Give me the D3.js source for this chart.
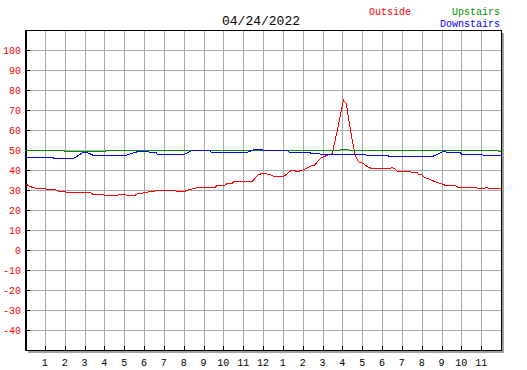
<!DOCTYPE html>
<html>
<head>
<meta charset="utf-8">
<script src="https://cdn.jsdelivr.net/npm/d3@7"></script>
<style>
body { margin: 0; background: #fff; }
svg { display: block; }
text { font-family: "Liberation Mono", "DejaVu Sans Mono", monospace; }
</style>
</head>
<body>
<svg width="527" height="370"></svg>
<script>
// data: [hour, degrees]
var outside = [
  [0.05,33.0],[0.25,31.7],[0.6,30.8],[1.0,30.8],[1.1,30.3],[1.5,30.3],[1.65,29.5],[2.0,29.5],
  [2.1,28.7],[3.3,28.7],[3.4,28.0],[3.9,28.0],[4.0,27.3],[4.65,27.3],[4.75,27.8],[5.05,27.8],
  [5.15,27.3],[5.55,27.3],[5.65,28.0],[6.05,28.7],[6.3,29.2],[6.7,29.7],[7.55,29.7],[7.65,29.3],
  [8.05,29.3],[8.2,30.0],[8.5,30.7],[8.8,31.5],[9.6,31.5],[9.7,32.5],[10.1,32.5],[10.2,33.3],
  [10.45,33.3],[10.55,34.3],[10.95,34.3],[11.0,33.8],[11.1,34.3],[11.45,34.3],[11.75,37.5],
  [11.95,38.3],[12.35,37.8],[12.5,37.0],[12.95,37.0],[13.05,36.8],[13.45,40.0],[13.75,39.2],
  [14.0,40.0],[14.35,41.7],[14.6,42.5],[14.9,45.8],[15.15,47.0],[15.5,48.3],[15.6,53.3],
  [15.75,60.0],[15.9,67.5],[16.05,75.0],[16.2,73.3],[16.3,66.7],[16.5,55.0],[16.65,47.5],
  [16.8,44.2],[17.05,43.3],[17.25,41.7],[17.55,40.5],[17.9,40.8],[18.4,40.8],[18.5,41.3],
  [18.65,40.5],[18.8,39.0],[19.0,39.5],[19.4,39.5],[19.5,38.8],[19.75,38.8],[19.85,37.8],
  [20.0,37.8],[20.15,36.3],[20.4,35.3],[20.65,34.3],[20.95,33.3],[21.2,32.3],[21.7,32.3],
  [21.8,31.5],[22.7,31.5],[22.8,31.0],[23.2,31.0],[23.3,31.5],[23.35,31.0],[24.0,31.0]
];
var upstairs = [
  [0,49.8],[1.95,49.8],[2.0,49.4],[4.05,49.4],[4.1,49.8],[15.85,49.8],[15.9,50.3],[16.3,50.3],
  [16.35,49.8],[23.8,49.8],[23.85,49.4],[24,49.4]
];
var downstairs = [
  [0,46.3],[1.42,46.3],[1.45,45.7],[2.44,45.7],[2.8,48],[2.9,48.7],[3.15,48.7],[3.3,48],[3.4,47.5],
  [5.13,47.5],[5.63,49],[5.7,49.5],[6.2,49.5],[6.25,49],[6.6,49],[6.65,48],[8.07,48],[8.4,49.7],
  [9.35,49.7],[9.4,48.8],[11.18,48.8],[11.6,50.3],[11.95,50.3],[12.0,50],[12.5,50],[12.55,49.7],
  [13.25,49.7],[13.3,49],[14.35,49],[14.4,48.3],[14.85,48.3],[14.9,47.8],[17.15,47.8],[17.2,47.3],
  [18.3,47.3],[18.35,46.8],[20.55,46.8],[21.15,49.5],[21.25,48.8],[21.95,48.8],[22.0,48],
  [23.05,48],[23.1,47.3],[24,47.3]
];
var hourTicks = d3.range(1, 24);
var hourLabels = ["1","2","3","4","5","6","7","8","9","10","11","12","1","2","3","4","5","6","7","8","9","10","11"];
var tempTicks = [100, 90, 80, 70, 60, 50, 40, 30, 20, 10, 0, -10, -20, -30, -40];

var svg = d3.select("svg");

var x = d3.scaleLinear().domain([0, 24]).range([25, 501]);
var y = d3.scaleLinear().domain([-50, 110]).range([350, 30]);

// shadow
svg.append("rect")
  .attr("x", 28).attr("y", 33).attr("width", 476).attr("height", 320)
  .attr("fill", "#a0a0a0");
svg.append("rect")
  .attr("x", 25).attr("y", 30).attr("width", 476).attr("height", 320)
  .attr("fill", "#fff");

// grid
var g = svg.append("g").attr("shape-rendering", "crispEdges");
g.selectAll(".vg")
  .data(hourTicks)
  .enter().append("line")
    .attr("x1", d => Math.round(x(d)) + 0.5).attr("x2", d => Math.round(x(d)) + 0.5)
    .attr("y1", y(110)).attr("y2", y(-50))
    .attr("stroke", "#a8a8a8");
g.selectAll(".hg")
  .data(tempTicks)
  .enter().append("line")
    .attr("x1", x(0)).attr("x2", x(24))
    .attr("y1", d => y(d) + 0.5).attr("y2", d => y(d) + 0.5)
    .attr("stroke", "#a8a8a8");

// ticks
g.selectAll(".yt")
  .data(tempTicks)
  .enter().append("line")
    .attr("x1", x(0)).attr("x2", x(0) + 5)
    .attr("y1", d => y(d) + 0.5).attr("y2", d => y(d) + 0.5)
    .attr("stroke", "#000");
g.selectAll(".xt")
  .data(hourTicks)
  .enter().append("line")
    .attr("x1", d => Math.round(x(d)) + 0.5).attr("x2", d => Math.round(x(d)) + 0.5)
    .attr("y1", y(-50)).attr("y2", y(-50) - 4)
    .attr("stroke", "#000");

// lines
var line = d3.line()
  .x(d => x(d[0]))
  .y(d => y(d[1]));

var lines = svg.append("g").attr("shape-rendering", "crispEdges");
lines.append("path").datum(outside)
  .attr("fill", "none").attr("stroke", "#ff0000").attr("stroke-width", 1)
  .attr("d", line);
lines.append("path").datum(upstairs)
  .attr("fill", "none").attr("stroke", "#009000").attr("stroke-width", 1)
  .attr("d", line);
lines.append("path").datum(downstairs)
  .attr("fill", "none").attr("stroke", "#0000ff").attr("stroke-width", 1)
  .attr("d", line);

// frame
g.append("rect")
  .attr("x", 25.5).attr("y", 30.5).attr("width", 476).attr("height", 320)
  .attr("fill", "none").attr("stroke", "#000").attr("stroke-width", 1);
g.append("line")
  .attr("x1", 26.5).attr("x2", 26.5).attr("y1", 30).attr("y2", 351)
  .attr("stroke", "#000");

// labels
svg.selectAll(".yl")
  .data(tempTicks)
  .enter().append("text")
    .attr("x", 21).attr("y", d => y(d) + 4)
    .attr("text-anchor", "end")
    .attr("font-size", 10)
    .attr("fill", "#ff0000")
    .text(d => d);
svg.selectAll(".xl")
  .data(hourTicks)
  .enter().append("text")
    .attr("x", d => x(d)).attr("y", 366)
    .attr("text-anchor", "middle")
    .attr("font-size", 10)
    .attr("fill", "#000")
    .text((d, i) => hourLabels[i]);

svg.append("text")
  .attr("x", 261).attr("y", 25)
  .attr("text-anchor", "middle").attr("font-size", 13)
  .text("04/24/2022");
svg.append("text")
  .attr("x", 369).attr("y", 15).attr("font-size", 10)
  .attr("fill", "#ff0000").text("Outside");
svg.append("text")
  .attr("x", 500).attr("y", 15).attr("text-anchor", "end").attr("font-size", 10)
  .attr("fill", "#009000").text("Upstairs");
svg.append("text")
  .attr("x", 500).attr("y", 27).attr("text-anchor", "end").attr("font-size", 10)
  .attr("fill", "#0000ff").text("Downstairs");
</script>
</body>
</html>
